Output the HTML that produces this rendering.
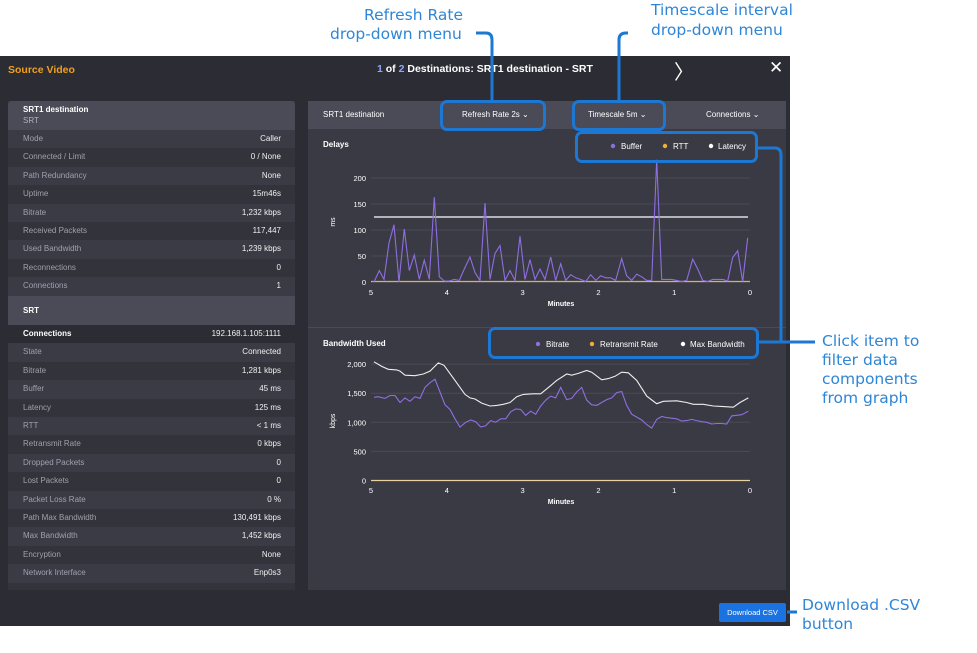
<!DOCTYPE html>
<html><head><meta charset="utf-8"><style>
body{margin:0;width:977px;height:653px;background:#fff;position:relative;overflow:hidden;font-family:"Liberation Sans",sans-serif}
.a{position:absolute}
.app{left:0;top:56px;width:790px;height:570px;background:#2c2c34}
.lp{left:8px;top:101px;width:287px;height:489px;background:#33333c}
.row{position:absolute;left:0;width:287px;height:18.4px;font-size:8px;line-height:18.4px}
.row .k{position:absolute;left:15px;color:#a0a0ac}
.row .v{position:absolute;right:14px;color:#f0f0f0}
.hd{position:absolute;left:0;width:287px;background:#4b4b58;color:#fff;font-size:8px;font-weight:bold}
.note{position:absolute;color:#2f86d6;font-family:"DejaVu Sans",sans-serif;font-size:15.5px;line-height:19px}
.box{position:absolute;border:3px solid #1c78d2;border-radius:7px;box-sizing:border-box}
</style></head><body>
<div class="a app"></div>
<div class="a" style="left:8px;top:64px;color:#f0a020;font-size:10.5px;font-weight:bold">Source Video</div>
<div class="a" style="left:377px;top:63px;color:#fff;font-size:10.5px;font-weight:bold"><span style="color:#8fa8ff">1</span> of <span style="color:#8fa8ff">2</span> Destinations: SRT1 destination - SRT</div>
<div class="a" style="left:674px;top:56px;color:#fff;font-size:20px">〉</div>
<div class="a" style="left:769px;top:58px;color:#fff;font-size:17px">✕</div>

<div class="a lp" id="lp">
<div class="hd" style="top:0;height:29px;border-radius:3px 3px 0 0"><div style="position:absolute;left:15px;top:4px">SRT1 destination</div><div style="position:absolute;left:15px;top:15px;font-weight:normal;color:#b0b0bc">SRT</div></div>
<div class="hd" style="top:195px;height:29px"><div style="position:absolute;left:15px;top:10px">SRT</div></div>
</div>

<div class="a" style="left:308px;top:101px;width:478px;height:489px;background:#3a3a45"></div>
<div class="a" style="left:308px;top:101px;width:478px;height:28px;background:#4b4b58;color:#fff;font-size:8px;line-height:28px">
<span class="a" style="left:15px">SRT1 destination</span>
<span class="a" style="left:154px">Refresh Rate 2s &#8964;</span>
<span class="a" style="left:280px">Timescale 5m &#8964;</span>
<span class="a" style="left:398px">Connections &#8964;</span>
</div>
<div class="a" style="left:308px;top:327px;width:478px;height:1px;background:#4a4a55"></div>

<svg class="a" style="left:0;top:0" width="977" height="653" id="sv" font-family="Liberation Sans" font-size="8">
<g fill="#fff">
<text x="323" y="147" font-weight="bold">Delays</text>
<text x="323" y="346" font-weight="bold">Bandwidth Used</text>
<circle cx="613" cy="146" r="2.2" fill="#8f6ee0"/><text x="621" y="149">Buffer</text>
<circle cx="665" cy="146" r="2.2" fill="#f0b030"/><text x="673" y="149">RTT</text>
<circle cx="711" cy="146" r="2.2" fill="#fff"/><text x="718" y="149">Latency</text>
<circle cx="538" cy="344" r="2.2" fill="#8f6ee0"/><text x="546" y="347">Bitrate</text>
<circle cx="592" cy="344" r="2.2" fill="#f0b030"/><text x="600" y="347">Retransmit Rate</text>
<circle cx="683" cy="344" r="2.2" fill="#fff"/><text x="690" y="347">Max Bandwidth</text>
</g>
<g id="grid" stroke="#4a4a55" stroke-width="1"></g>
<g id="ticks" fill="#fff" font-size="7.5"></g>
<text x="335" y="222" fill="#fff" font-size="7" transform="rotate(-90 335 222)" text-anchor="middle">ms</text>
<text x="335" y="421" fill="#fff" font-size="7" transform="rotate(-90 335 421)" text-anchor="middle">kbps</text>
<text x="561" y="306" fill="#fff" font-size="7" text-anchor="middle" font-weight="bold">Minutes</text>
<text x="561" y="504" fill="#fff" font-size="7" text-anchor="middle" font-weight="bold">Minutes</text>
<line x1="374" y1="217" x2="748" y2="217" stroke="#fff" stroke-width="1.3"/>
<line x1="371" y1="281.5" x2="750" y2="281.5" stroke="#d8b060" stroke-width="1.2"/>
<line x1="371" y1="480.5" x2="750" y2="480.5" stroke="#e8d0a0" stroke-width="1.2"/>
<polyline id="buf" fill="none" stroke="#8f6ee0" stroke-width="1.1"/>
<polyline id="mx" fill="none" stroke="#eee" stroke-width="1.1"/>
<polyline id="br" fill="none" stroke="#8f6ee0" stroke-width="1.1"/>
<g fill="none" stroke="#1c78d2" stroke-width="3">
<path d="M476 33 H486 Q492 33 492 40 V101"/>
<path d="M628 33 H626 Q619 33 619 40 V101"/>
<path d="M757 148 H775 Q781 148 781 155 V342 H815 M758 342 H781"/>
<path d="M787 612 H797"/>
</g>
</svg>
<div class="box" style="left:440px;top:100px;width:106px;height:31px"></div>
<div class="box" style="left:572px;top:100px;width:94px;height:31px"></div>
<div class="box" style="left:575px;top:131px;width:183px;height:32px"></div>
<div class="box" style="left:488px;top:327px;width:271px;height:32px"></div>
<div class="a" style="left:719px;top:603px;width:67px;height:19px;background:#1a73e0;border-radius:2px;color:#fff;font-size:7.5px;line-height:19px;text-align:center">Download CSV</div>

<div class="note" style="left:364px;top:6px">Refresh Rate</div>
<div class="note" style="left:330px;top:25px">drop-down menu</div>
<div class="note" style="left:651px;top:1px">Timescale interval</div>
<div class="note" style="left:651px;top:21px">drop-down menu</div>
<div class="note" style="left:822px;top:332px">Click item to<br>filter data<br>components<br>from graph</div>
<div class="note" style="left:802px;top:596px">Download .CSV<br>button</div>

<script>
var lp=document.getElementById('lp');
function rows(list,y0,start){list.forEach(function(r,i){var d=document.createElement('div');d.className='row';d.style.top=(y0+i*18.4)+'px';d.style.background=((i+start)%2?'#33333c':'#3b3b46');if(r[2])d.style.background='#2c2c34';d.innerHTML='<span class="k"'+(r[2]?' style="color:#fff;font-weight:bold"':'')+'>'+r[0]+'</span><span class="v">'+r[1]+'</span>';lp.appendChild(d);});}
rows([["Mode","Caller"],["Connected / Limit","0 / None"],["Path Redundancy","None"],["Uptime","15m46s"],["Bitrate","1,232 kbps"],["Received Packets","117,447"],["Used Bandwidth","1,239 kbps"],["Reconnections","0"],["Connections","1"]],29,0);
rows([["Connections","192.168.1.105:1111",1],["State","Connected"],["Bitrate","1,281 kbps"],["Buffer","45 ms"],["Latency","125 ms"],["RTT","&lt; 1 ms"],["Retransmit Rate","0 kbps"],["Dropped Packets","0"],["Lost Packets","0"],["Packet Loss Rate","0 %"],["Path Max Bandwidth","130,491 kbps"],["Max Bandwidth","1,452 kbps"],["Encryption","None"],["Network Interface","Enp0s3"]],224,1);
var NS='http://www.w3.org/2000/svg';
function el(p,t,a,tx){var e=document.createElementNS(NS,t);for(var k in a)e.setAttribute(k,a[k]);if(tx!==undefined)e.textContent=tx;document.getElementById(p).appendChild(e);}
[0,50,100,150,200].forEach(function(v){var y=282-v*0.52;el('grid','line',{x1:371,x2:750,y1:y,y2:y});el('ticks','text',{x:366,y:y+3,'text-anchor':'end'},v);});
['0','500','1,000','1,500','2,000'].forEach(function(s,i){var y=480.5-i*500*0.0582;el('grid','line',{x1:371,x2:750,y1:y,y2:y});el('ticks','text',{x:366,y:y+3,'text-anchor':'end'},s);});
for(var i=0;i<=5;i++){var x=371+(5-i)*75.8;el('ticks','text',{x:x,y:295,'text-anchor':'middle'},i);el('ticks','text',{x:x,y:493,'text-anchor':'middle'},i);}
var b=[222,0,238,22,252,5,267,75,282,110,297,0,313,102,328,22,343,52,358,5,373,42,388,5,403,163,418,10,433,2,448,2,463,5,478,3,493,25,510,48,525,18,540,3,555,152,570,5,585,55,600,70,615,3,630,22,645,3,660,88,675,5,690,43,705,5,720,25,735,5,752,48,767,3,782,35,797,3,812,14,827,8,842,5,857,1,872,14,887,3,902,12,917,8,932,8,947,3,965,45,980,12,995,3,1010,15,1025,10,1040,3,1055,3,1070,235,1085,5,1100,5,1115,5,1130,3,1145,1,1160,3,1178,44,1193,25,1208,3,1223,1,1238,5,1253,5,1268,5,1283,2,1298,47,1313,60,1328,1,1343,85];
var m=[222,2040,245,1960,265,1910,290,1900,300,1880,315,1810,345,1800,370,1830,390,1880,415,2020,432,1980,460,1760,495,1480,510,1420,525,1400,545,1330,570,1280,590,1290,610,1310,630,1340,650,1440,670,1480,700,1490,722,1490,750,1620,770,1720,800,1830,815,1810,835,1840,860,1890,875,1860,905,1730,925,1750,945,1790,965,1860,985,1850,1010,1720,1040,1450,1070,1320,1090,1360,1130,1370,1160,1340,1180,1310,1210,1310,1240,1280,1270,1270,1300,1260,1320,1340,1345,1420];
var r=[222,1430,235,1440,255,1410,270,1460,285,1460,300,1340,315,1420,330,1360,345,1440,360,1410,375,1600,390,1680,405,1740,420,1520,435,1300,450,1220,465,1060,480,920,497,1000,512,1040,527,1010,542,920,557,940,572,1030,587,1000,602,1060,617,1060,632,1180,647,1230,662,1220,677,1120,692,1190,707,1140,722,1280,737,1380,752,1450,767,1420,782,1600,800,1390,815,1410,830,1520,845,1600,860,1380,875,1300,890,1290,905,1340,920,1390,935,1420,950,1510,965,1530,980,1290,995,1140,1010,1090,1025,1040,1040,960,1055,900,1070,1050,1085,1100,1100,1080,1115,1070,1130,1060,1145,1020,1160,1030,1175,1050,1190,1030,1205,1010,1220,1000,1235,970,1250,980,1265,980,1280,970,1295,1110,1310,1120,1325,1130,1345,1190];
function pts(a,f){var s=[];for(var i=0;i<a.length;i+=2)s.push((300+a[i]/3).toFixed(1)+','+f(a[i+1]).toFixed(1));return s.join(' ');}
document.getElementById('buf').setAttribute('points',pts(b,function(v){return 282-v*0.52}));
document.getElementById('mx').setAttribute('points',pts(m,function(v){return 480.5-v*0.0582}));
document.getElementById('br').setAttribute('points',pts(r,function(v){return 480.5-v*0.0582}));
</script>
</body></html>
